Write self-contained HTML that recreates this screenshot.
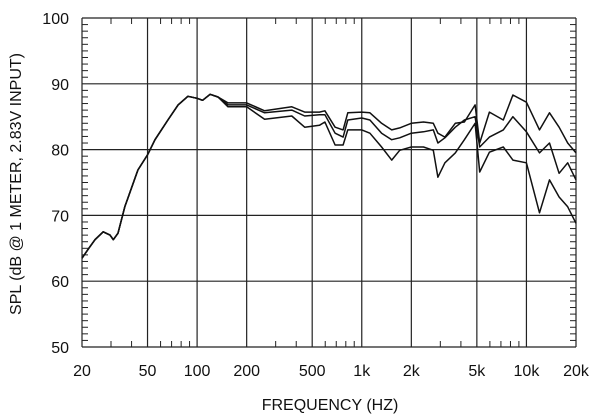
<!DOCTYPE html>
<html><head><meta charset="utf-8"><style>
body{margin:0;background:#fff;}
svg{display:block;font-family:"Liberation Sans",sans-serif;}
</style></head><body>
<svg id="chart" width="600" height="420"></svg>
<script>
const freqs=[20,22,24,26.9,29.6,31,33.1,36.4,43.7,50,55.5,66.5,76.7,87.9,100,108,120,134,154,200,257,376,450,553,597,689,770,823,1000,1120,1320,1520,1700,2000,2370,2720,2900,3200,3700,4200,4880,5200,5960,7240,8280,10000,12000,13800,15800,17800,20000];
const seriesTop=[63.5,65,66.3,67.5,67,66.3,67.3,71.3,76.9,79.2,81.5,84.5,86.8,88.1,87.8,87.5,88.4,88,87.1,87.1,85.9,86.5,85.7,85.7,85.9,83.4,83,85.6,85.7,85.6,84,83,83.3,84,84.2,84,82.5,81.9,84,84.2,86.8,81,85.7,84.5,88.3,87.2,83,85.6,83.4,81,79.5];
const seriesMid=[63.5,65,66.3,67.5,67,66.3,67.3,71.3,76.9,79.2,81.5,84.5,86.8,88.1,87.8,87.5,88.4,88,86.8,86.8,85.6,86,85.1,85.3,85.3,82.5,81.9,84.5,84.8,84.5,82.5,81.5,81.8,82.5,82.7,83,81,81.8,83.4,84.5,85,80.4,81.9,83,85,82.7,79.5,81,76.4,78,75.4];
const seriesBot=[63.5,65,66.3,67.5,67,66.3,67.3,71.3,76.9,79.2,81.5,84.5,86.8,88.1,87.8,87.5,88.4,88,86.5,86.5,84.6,85.1,83.4,83.7,84.2,80.7,80.7,83,83,82.5,80.4,78.4,79.9,80.4,80.4,79.9,75.8,78,79.5,81.5,84,76.6,79.6,80.4,78.4,78,70.4,75.4,72.8,71.3,68.8];
const yTicks=[50,60,70,80,90,100];
const xGrid=[20,50,100,200,500,1000,2000,5000,10000,20000];
const xLabels=["20","50","100","200","500","1k","2k","5k","10k","20k"];

const L=82,R=576,T=18,B=347;
const xs=f=>L+(R-L)*Math.log10(f/20)/3;
const ys=d=>B-(B-T)*(d-50)/50;
const NS="http://www.w3.org/2000/svg";
const svg=document.getElementById('chart');
function mk(tag,attrs,parent){const e=document.createElementNS(NS,tag);for(const k in attrs)e.setAttribute(k,attrs[k]);(parent||svg).appendChild(e);return e;}

const grid=mk('g',{stroke:'#222','stroke-width':1.2});


xGrid.forEach(f=>{const l=mk('line',{x1:xs(f),x2:xs(f),y1:T,y2:B},grid);

});
yTicks.forEach(d=>{const l=mk('line',{x1:L,x2:R,y1:ys(d),y2:ys(d)},grid);

});
const tk=mk('g',{stroke:'#222','stroke-width':1});


for(let d=51;d<100;d++){if(d%10===0)continue;
mk('line',{x1:L,x2:L+6,y1:ys(d),y2:ys(d)},tk);mk('line',{x1:R-6,x2:R,y1:ys(d),y2:ys(d)},tk);}
for(let dec=10;dec<=10000;dec*=10){for(let m=2;m<=9;m++){const f=dec*m;if(f<=20||f>=20000)continue;if(xGrid.includes(f))continue;
mk('line',{x1:xs(f),x2:xs(f),y1:T,y2:T+6},tk);mk('line',{x1:xs(f),x2:xs(f),y1:B-6,y2:B},tk);}}

[seriesTop,seriesMid,seriesBot].forEach((s,i)=>{
const p=mk('polyline',{fill:'none',stroke:'#111','stroke-width':1.5,'stroke-linejoin':'round',points:s.map((d,j)=>xs(freqs[j]).toFixed(1)+','+ys(d).toFixed(1)).join(' ')});

});

yTicks.forEach(d=>{const t=mk('text',{x:L-13,y:ys(d)+6,'text-anchor':'end','font-size':16,fill:'#111'});t.textContent=d;

});
xGrid.forEach((f,i)=>{const t=mk('text',{x:xs(f),y:376,'text-anchor':'middle','font-size':16,fill:'#111'});t.textContent=xLabels[i];

});
const xt=mk('text',{x:330,y:410,'text-anchor':'middle','font-size':16,fill:'#111'});xt.textContent='FREQUENCY  (HZ)';


const yt=mk('text',{x:0,y:0,'text-anchor':'middle','font-size':16,fill:'#111',transform:'translate(21,184) rotate(-90)'});yt.textContent='SPL (dB @ 1 METER, 2.83V INPUT)';


</script>
</body></html>
